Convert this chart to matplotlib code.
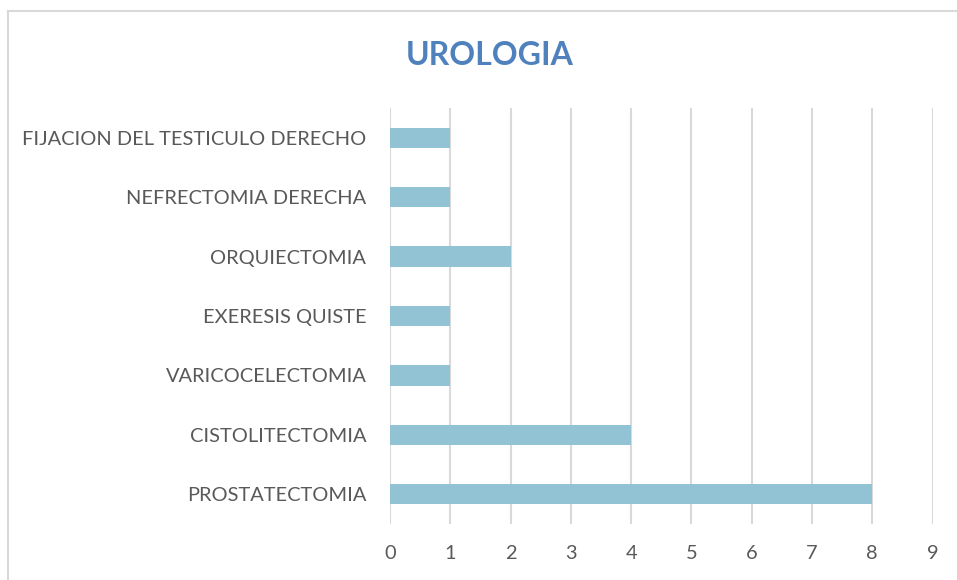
import matplotlib.pyplot as plt
from matplotlib.lines import Line2D

plt.rcParams['font.family'] = ['Lato', 'DejaVu Sans']

# datos
procedimientos = ['PROSTATECTOMIA', 'CISTOLITECTOMIA', 'VARICOCELECTOMIA',
                  'EXERESIS QUISTE', 'ORQUIECTOMIA', 'NEFRECTOMIA DERECHA',
                  'FIJACION DEL TESTICULO DERECHO']
casos = [8, 4, 1, 1, 2, 1, 1]
ticks_x = list(range(0, 10))

fig = plt.figure(figsize=(9.57, 5.80), dpi=100)
ax = fig.add_axes([0.4075, 0.0966, 0.567, 0.7172])

ax.barh(range(len(procedimientos)), casos, height=0.34, color='#92C3D5', zorder=3)

ax.set_xlim(0, 9)
ax.set_ylim(-0.5, len(procedimientos) - 0.5)
ax.set_xticks(ticks_x)
ax.set_yticks(range(len(procedimientos)))
ax.set_yticklabels(procedimientos)
ax.tick_params(axis='both', length=0, labelsize=14.4, labelcolor='#595959')
ax.tick_params(axis='x', pad=15)
ax.tick_params(axis='y', pad=17)
ax.grid(axis='x', color='#D9D9D9', linewidth=1.5, zorder=0)
for s in ax.spines.values():
    s.set_visible(False)

fig.text(0.512, 0.905, 'UROLOGIA', ha='center', va='center',
         fontsize=23, fontweight='bold', color='#4F81BD')

# marco del grafico
fig.add_artist(Line2D([8 / 957, 8 / 957], [0, 1 - 11 / 580], transform=fig.transFigure,
                      color='#D9D9D9', linewidth=1.5))
fig.add_artist(Line2D([8 / 957, 1], [1 - 11 / 580, 1 - 11 / 580], transform=fig.transFigure,
                      color='#D9D9D9', linewidth=1.5))

fig.savefig('out.png', dpi=100)
